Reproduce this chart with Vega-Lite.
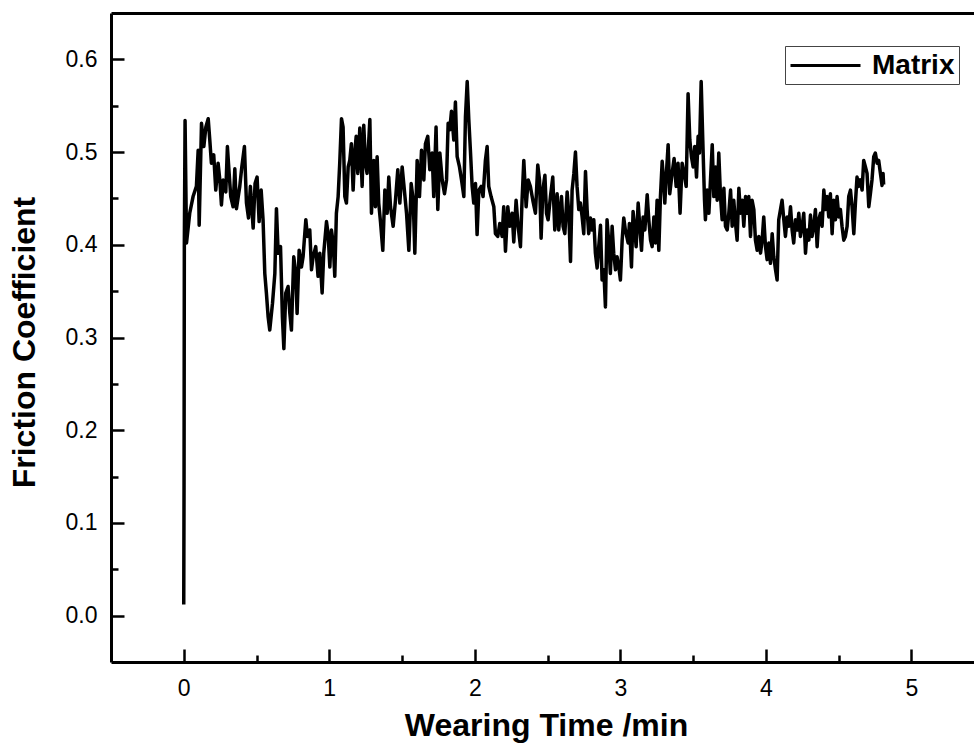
{
  "$schema": "https://vega.github.io/schema/vega-lite/v6.json",
  "width": 863,
  "height": 649,
  "autosize": {"type": "none"},
  "padding": {"left": 111, "top": 13, "right": 0, "bottom": 81},
  "background": "white",
  "data": {"values": [
    {"t":0,"f":0.012},{"t":0.002,"f":0.14},{"t":0.004,"f":0.40},{"t":0.009,"f":0.534},{"t":0.019,"f":0.402},{"t":0.041,"f":0.434},{"t":0.064,"f":0.452},{"t":0.087,"f":0.463},{"t":0.099,"f":0.502},{"t":0.106,"f":0.421},{"t":0.122,"f":0.531},{"t":0.138,"f":0.506},{"t":0.152,"f":0.527},{"t":0.168,"f":0.536},{"t":0.179,"f":0.513},{"t":0.190,"f":0.488},{"t":0.206,"f":0.497},{"t":0.220,"f":0.459},{"t":0.236,"f":0.488},{"t":0.248,"f":0.470},{"t":0.259,"f":0.443},{"t":0.271,"f":0.470},{"t":0.289,"f":0.457},{"t":0.300,"f":0.506},{"t":0.312,"f":0.477},{"t":0.323,"f":0.452},{"t":0.339,"f":0.441},{"t":0.351,"f":0.482},{"t":0.362,"f":0.439},{"t":0.385,"f":0.463},{"t":0.399,"f":0.484},{"t":0.417,"f":0.506},{"t":0.431,"f":0.445},{"t":0.445,"f":0.429},{"t":0.458,"f":0.463},{"t":0.477,"f":0.418},{"t":0.490,"f":0.466},{"t":0.504,"f":0.473},{"t":0.518,"f":0.425},{"t":0.532,"f":0.459},{"t":0.545,"f":0.427},{"t":0.557,"f":0.369},{"t":0.568,"f":0.348},{"t":0.580,"f":0.322},{"t":0.591,"f":0.308},{"t":0.610,"f":0.337},{"t":0.626,"f":0.369},{"t":0.637,"f":0.439},{"t":0.649,"f":0.391},{"t":0.665,"f":0.398},{"t":0.678,"f":0.322},{"t":0.688,"f":0.288},{"t":0.701,"f":0.348},{"t":0.717,"f":0.355},{"t":0.729,"f":0.326},{"t":0.740,"f":0.308},{"t":0.756,"f":0.387},{"t":0.770,"f":0.369},{"t":0.779,"f":0.326},{"t":0.793,"f":0.394},{"t":0.809,"f":0.376},{"t":0.820,"f":0.387},{"t":0.839,"f":0.427},{"t":0.850,"f":0.409},{"t":0.866,"f":0.416},{"t":0.878,"f":0.373},{"t":0.889,"f":0.387},{"t":0.907,"f":0.398},{"t":0.923,"f":0.366},{"t":0.935,"f":0.391},{"t":0.951,"f":0.348},{"t":0.962,"f":0.391},{"t":0.981,"f":0.425},{"t":0.992,"f":0.412},{"t":1.004,"f":0.376},{"t":1.015,"f":0.416},{"t":1.027,"f":0.402},{"t":1.038,"f":0.366},{"t":1.049,"f":0.434},{"t":1.061,"f":0.452},{"t":1.072,"f":0.488},{"t":1.084,"f":0.536},{"t":1.095,"f":0.527},{"t":1.107,"f":0.452},{"t":1.118,"f":0.445},{"t":1.130,"f":0.484},{"t":1.141,"f":0.491},{"t":1.152,"f":0.509},{"t":1.164,"f":0.459},{"t":1.175,"f":0.499},
    {"t":1.185,"f":0.517},{"t":1.196,"f":0.477},{"t":1.210,"f":0.526},{"t":1.226,"f":0.463},{"t":1.237,"f":0.529},{"t":1.249,"f":0.488},{"t":1.260,"f":0.477},{"t":1.279,"f":0.535},{"t":1.290,"f":0.434},{"t":1.306,"f":0.491},{"t":1.317,"f":0.441},{"t":1.329,"f":0.495},{"t":1.340,"f":0.445},{"t":1.352,"f":0.425},{"t":1.368,"f":0.394},{"t":1.382,"f":0.459},{"t":1.398,"f":0.434},{"t":1.409,"f":0.473},{"t":1.421,"f":0.441},{"t":1.439,"f":0.420},{"t":1.455,"f":0.448},{"t":1.471,"f":0.481},{"t":1.485,"f":0.445},{"t":1.501,"f":0.484},{"t":1.512,"f":0.466},{"t":1.531,"f":0.434},{"t":1.547,"f":0.394},{"t":1.563,"f":0.466},{"t":1.577,"f":0.448},{"t":1.588,"f":0.391},{"t":1.604,"f":0.491},{"t":1.620,"f":0.452},{"t":1.634,"f":0.502},{"t":1.650,"f":0.470},{"t":1.661,"f":0.509},{"t":1.677,"f":0.517},{"t":1.691,"f":0.481},{"t":1.707,"f":0.499},{"t":1.718,"f":0.452},{"t":1.734,"f":0.527},{"t":1.746,"f":0.438},{"t":1.760,"f":0.499},{"t":1.776,"f":0.470},{"t":1.792,"f":0.455},{"t":1.806,"f":0.470},{"t":1.817,"f":0.531},{"t":1.828,"f":0.524},{"t":1.840,"f":0.544},{"t":1.856,"f":0.513},{"t":1.867,"f":0.554},{"t":1.879,"f":0.495},{"t":1.895,"f":0.484},{"t":1.909,"f":0.470},{"t":1.925,"f":0.452},{"t":1.936,"f":0.538},{"t":1.948,"f":0.576},{"t":1.959,"f":0.535},{"t":1.970,"f":0.502},{"t":1.982,"f":0.463},{"t":1.993,"f":0.445},{"t":2.005,"f":0.466},{"t":2.016,"f":0.411},{"t":2.028,"f":0.459},{"t":2.044,"f":0.463},{"t":2.057,"f":0.452},{"t":2.073,"f":0.491},{"t":2.085,"f":0.506},{"t":2.096,"f":0.463},{"t":2.112,"f":0.452},{"t":2.131,"f":0.441},{"t":2.142,"f":0.412},{"t":2.158,"f":0.409},{"t":2.172,"f":0.423},{"t":2.188,"f":0.409},{"t":2.199,"f":0.441},{"t":2.211,"f":0.393},{"t":2.227,"f":0.441},{"t":2.241,"f":0.420},{"t":2.257,"f":0.434},{"t":2.268,"f":0.403},{"t":2.284,"f":0.448},{"t":2.298,"f":0.420},{"t":2.314,"f":0.398},{"t":2.325,"f":0.448},{"t":2.337,"f":0.491},{"t":2.353,"f":0.441},{"t":2.367,"f":0.470},{"t":2.382,"f":0.463},
    {"t":2.399,"f":0.448},{"t":2.417,"f":0.434},{"t":2.433,"f":0.486},{"t":2.445,"f":0.470},{"t":2.456,"f":0.407},{"t":2.468,"f":0.459},{"t":2.482,"f":0.475},{"t":2.493,"f":0.434},{"t":2.504,"f":0.427},{"t":2.520,"f":0.452},{"t":2.536,"f":0.473},{"t":2.550,"f":0.416},{"t":2.566,"f":0.455},{"t":2.577,"f":0.416},{"t":2.596,"f":0.452},{"t":2.607,"f":0.420},{"t":2.619,"f":0.412},{"t":2.635,"f":0.457},{"t":2.646,"f":0.434},{"t":2.658,"f":0.382},{"t":2.669,"f":0.459},{"t":2.681,"f":0.477},{"t":2.692,"f":0.500},{"t":2.703,"f":0.463},{"t":2.715,"f":0.438},{"t":2.726,"f":0.445},{"t":2.738,"f":0.430},{"t":2.749,"f":0.412},{"t":2.761,"f":0.479},{"t":2.772,"f":0.438},{"t":2.783,"f":0.412},{"t":2.795,"f":0.429},{"t":2.806,"f":0.416},{"t":2.818,"f":0.427},{"t":2.829,"f":0.391},{"t":2.841,"f":0.375},{"t":2.852,"f":0.398},{"t":2.864,"f":0.421},{"t":2.875,"f":0.362},{"t":2.887,"f":0.373},{"t":2.898,"f":0.333},{"t":2.909,"f":0.427},{"t":2.921,"f":0.402},{"t":2.932,"f":0.369},{"t":2.944,"f":0.420},{"t":2.955,"f":0.391},{"t":2.967,"f":0.373},{"t":2.978,"f":0.387},{"t":2.990,"f":0.376},{"t":3.001,"f":0.362},{"t":3.013,"f":0.405},{"t":3.024,"f":0.429},{"t":3.035,"f":0.416},{"t":3.054,"f":0.402},{"t":3.063,"f":0.423},{"t":3.077,"f":0.376},{"t":3.088,"f":0.436},{"t":3.100,"f":0.416},{"t":3.109,"f":0.398},{"t":3.123,"f":0.445},{"t":3.134,"f":0.420},{"t":3.146,"f":0.394},{"t":3.157,"f":0.430},{"t":3.169,"f":0.416},{"t":3.185,"f":0.454},{"t":3.196,"f":0.427},{"t":3.208,"f":0.405},{"t":3.219,"f":0.398},{"t":3.231,"f":0.430},{"t":3.242,"f":0.402},{"t":3.253,"f":0.448},{"t":3.265,"f":0.394},{"t":3.276,"f":0.452},{"t":3.288,"f":0.490},{"t":3.299,"f":0.466},{"t":3.306,"f":0.445},{"t":3.317,"f":0.477},{"t":3.329,"f":0.508},{"t":3.340,"f":0.455},{"t":3.356,"f":0.477},{"t":3.370,"f":0.493},{"t":3.384,"f":0.463},{"t":3.397,"f":0.488},{"t":3.411,"f":0.434},{"t":3.425,"f":0.488},{"t":3.439,"f":0.477},{"t":3.453,"f":0.463},{"t":3.466,"f":0.563},{"t":3.478,"f":0.513},{"t":3.489,"f":0.495},{"t":3.501,"f":0.484},{"t":3.512,"f":0.506},{"t":3.524,"f":0.473},{"t":3.535,"f":0.517},{"t":3.544,"f":0.499},{"t":3.556,"f":0.576},{"t":3.567,"f":0.513},{"t":3.579,"f":0.448},{"t":3.585,"f":0.427},
    {"t":3.597,"f":0.459},{"t":3.609,"f":0.434},{"t":3.620,"f":0.470},{"t":3.632,"f":0.508},{"t":3.643,"f":0.452},{"t":3.655,"f":0.484},{"t":3.666,"f":0.448},{"t":3.677,"f":0.499},{"t":3.689,"f":0.452},{"t":3.700,"f":0.427},{"t":3.712,"f":0.461},{"t":3.723,"f":0.420},{"t":3.735,"f":0.416},{"t":3.746,"f":0.434},{"t":3.758,"f":0.459},{"t":3.769,"f":0.420},{"t":3.780,"f":0.448},{"t":3.792,"f":0.423},{"t":3.803,"f":0.405},{"t":3.815,"f":0.461},{"t":3.826,"f":0.434},{"t":3.838,"f":0.448},{"t":3.849,"f":0.420},{"t":3.861,"f":0.452},{"t":3.872,"f":0.434},{"t":3.883,"f":0.452},{"t":3.895,"f":0.409},{"t":3.906,"f":0.448},{"t":3.918,"f":0.438},{"t":3.929,"f":0.405},{"t":3.941,"f":0.394},{"t":3.952,"f":0.409},{"t":3.964,"f":0.391},{"t":3.975,"f":0.405},{"t":3.986,"f":0.430},{"t":3.998,"f":0.398},{"t":4.009,"f":0.384},{"t":4.021,"f":0.402},{"t":4.032,"f":0.380},{"t":4.044,"f":0.412},{"t":4.055,"f":0.387},{"t":4.067,"f":0.373},{"t":4.078,"f":0.362},{"t":4.089,"f":0.427},{"t":4.101,"f":0.438},{"t":4.112,"f":0.448},{"t":4.124,"f":0.427},{"t":4.135,"f":0.409},{"t":4.147,"f":0.430},{"t":4.158,"f":0.420},{"t":4.170,"f":0.441},{"t":4.181,"f":0.416},{"t":4.192,"f":0.402},{"t":4.204,"f":0.427},{"t":4.215,"f":0.416},{"t":4.227,"f":0.434},{"t":4.238,"f":0.409},{"t":4.250,"f":0.420},{"t":4.261,"f":0.434},{"t":4.273,"f":0.391},{"t":4.284,"f":0.416},{"t":4.296,"f":0.405},{"t":4.307,"f":0.432},{"t":4.318,"f":0.409},{"t":4.330,"f":0.420},{"t":4.341,"f":0.438},{"t":4.353,"f":0.398},{"t":4.364,"f":0.427},{"t":4.376,"f":0.434},{"t":4.387,"f":0.420},{"t":4.399,"f":0.459},{"t":4.410,"f":0.438},{"t":4.421,"f":0.452},{"t":4.433,"f":0.430},{"t":4.444,"f":0.455},{"t":4.456,"f":0.412},{"t":4.467,"f":0.448},{"t":4.479,"f":0.427},{"t":4.490,"f":0.452},{"t":4.502,"f":0.430},{"t":4.513,"f":0.438},{"t":4.524,"f":0.420},{"t":4.536,"f":0.405},{"t":4.547,"f":0.409},{"t":4.559,"f":0.420},{"t":4.570,"f":0.452},{"t":4.582,"f":0.459},{"t":4.593,"f":0.441},{"t":4.605,"f":0.412},{"t":4.616,"f":0.445},{"t":4.627,"f":0.473},{"t":4.639,"f":0.463},{"t":4.650,"f":0.470},{"t":4.662,"f":0.459},{"t":4.673,"f":0.491},{"t":4.685,"f":0.484},{"t":4.696,"f":0.477},{"t":4.708,"f":0.441},{"t":4.719,"f":0.455},{"t":4.730,"f":0.470},{"t":4.742,"f":0.495},{"t":4.753,"f":0.499},{"t":4.765,"f":0.488},{"t":4.776,"f":0.491},{"t":4.788,"f":0.477},{"t":4.799,"f":0.464},{"t":4.806,"f":0.477},{"t":4.810,"f":0.465}
  ]},
  "resolve": {"axis": {"x": "independent"}},
  "layer": [
    {
      "mark": {"type": "line", "strokeWidth": 3.5, "interpolate": "linear", "strokeJoin": "round"},
      "encoding": {
        "x": {
          "field": "t", "type": "quantitative",
          "scale": {"domain": [-0.5, 5.431], "nice": false, "zero": false},
          "axis": {
            "title": "Wearing Time /min",
            "values": [0, 0.5, 1, 1.5, 2, 2.5, 3, 3.5, 4, 4.5, 5],
            "labelExpr": "datum.value % 1 === 0 ? format(datum.value, 'd') : ''",
            "tickSize": {"condition": {"test": "datum.value % 1 === 0", "value": -13}, "value": -7},
            "labelPadding": 28,
            "labelBaseline": "top",
            "titleX": 435,
            "titleY": 48,
            "titleFontSize": 32,
            "titleBaseline": "top",
            "titleAnchor": "middle"
          }
        },
        "y": {
          "field": "f", "type": "quantitative",
          "scale": {"domain": [-0.05, 0.65], "nice": false, "zero": false},
          "axis": {
            "title": "Friction Coefficient",
            "values": [0, 0.05, 0.1, 0.15, 0.2, 0.25, 0.3, 0.35, 0.4, 0.45, 0.5, 0.55, 0.6],
            "labelExpr": "abs(datum.value * 10 - round(datum.value * 10)) < 0.001 ? format(datum.value, '.1f') : ''",
            "tickSize": {"condition": {"test": "abs(datum.value * 10 - round(datum.value * 10)) < 0.001", "value": -13}, "value": -7},
            "labelPadding": 27,
            "titleX": -77,
            "titleY": 329,
            "titleAngle": -90,
            "titleFontSize": 32,
            "titleBaseline": "alphabetic",
            "titleAnchor": "middle"
          }
        },
        "color": {
          "datum": "Matrix", "type": "nominal",
          "scale": {"range": ["black"]},
          "legend": {
            "orient": "none",
            "legendX": 674,
            "legendY": 33,
            "title": null,
            "strokeColor": "#444444",
            "fillColor": "white",
            "padding": 4,
            "cornerRadius": 0,
            "symbolType": "M-1,0H4",
            "symbolSize": 784,
            "symbolStrokeWidth": 3,
            "symbolStrokeColor": "black",
            "symbolFillColor": "transparent",
            "labelFont": "Liberation Sans",
            "labelFontSize": 28,
            "labelFontWeight": "bold",
            "labelColor": "black",
            "labelOffset": 52
          }
        }
      }
    },
    {
      "mark": {"type": "line", "opacity": 0},
      "encoding": {
        "x": {
          "field": "t", "type": "quantitative",
          "axis": {"orient": "top", "labels": false, "ticks": false, "title": null, "domain": true}
        },
        "y": {"field": "f", "type": "quantitative"}
      }
    }
  ],
  "config": {
    "view": {"stroke": null},
    "axis": {
      "grid": false,
      "domainColor": "black",
      "domainWidth": 3,
      "tickColor": "black",
      "tickWidth": 2.5,
      "labelFont": "Liberation Sans",
      "labelFontSize": 23,
      "labelColor": "black",
      "titleFont": "Liberation Sans",
      "titleFontSize": 30,
      "titleFontWeight": "bold",
      "titleColor": "black"
    }
  }
}
